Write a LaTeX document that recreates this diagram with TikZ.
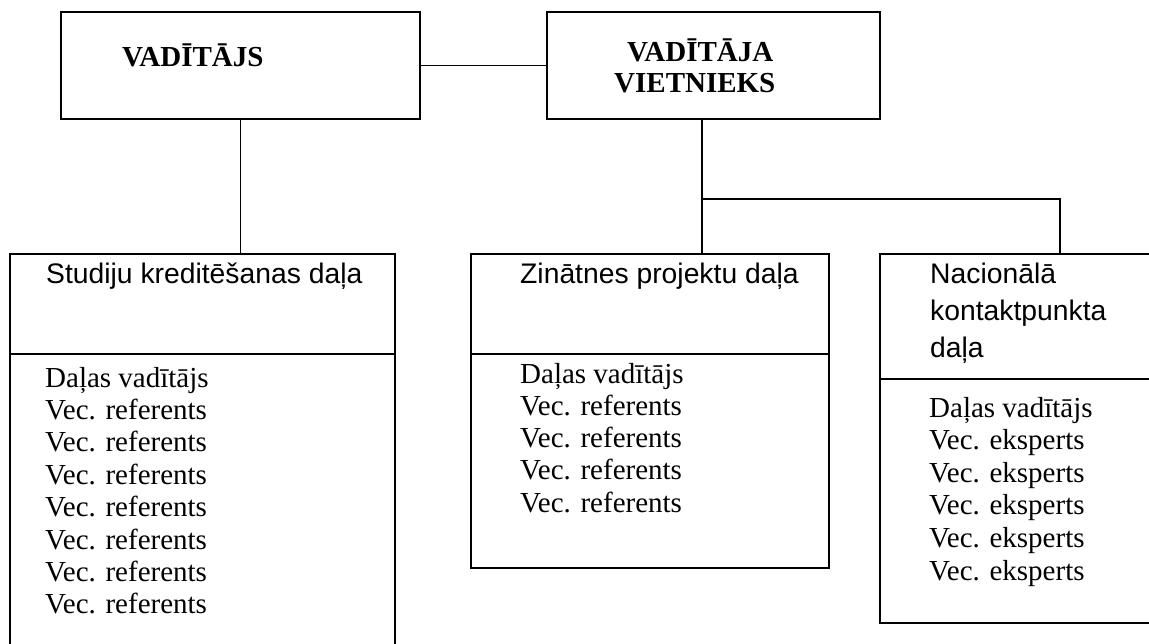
\documentclass[tikz,border=0pt]{standalone}
\usepackage{fontspec}
\setmainfont{Liberation Serif}
\newfontfamily\sansf{Liberation Sans}
\tikzset{
  box/.style={draw, line width=1.6pt, rectangle, inner sep=0pt, outer sep=0pt, anchor=north west},
  conn/.style={line width=1.6pt},
  lst/.style={font=\fontsize{29}{32}\selectfont, inner sep=0pt, anchor=base west},
  hdr/.style={font=\sansf\fontsize{28.3}{37}\selectfont, inner sep=0pt, anchor=base west},
  ttl/.style={font=\bfseries\fontsize{29}{31}\selectfont, inner sep=0pt, anchor=base west}
}
\begin{document}
\begin{tikzpicture}[x=1pt,y=-1pt]
\useasboundingbox (0,0) rectangle (1149,643);
\clip (0,0) rectangle (1149,643);
\fill[white] (0,0) rectangle (1149,643);
% top boxes
\node[box, minimum width=359pt, minimum height=107pt] (b1) at (61,12) {};
\node[box, minimum width=333pt, minimum height=107pt] (b2) at (547,12) {};
\node[ttl] (t1) at (122,66) {VADĪTĀJS};
\node[ttl] (t2a) at (627,61) {VADĪTĀJA};
\node[ttl] (t2b) at (614,92) {VIETNIEKS};
% lower boxes
\node[box, minimum width=385pt, minimum height=400pt] (b3) at (10,254) {};
\node[box, minimum width=358pt, minimum height=314pt] (b4) at (471,254) {};
\node[box, minimum width=300pt, minimum height=369pt] (b5) at (880,254) {};
% dividers
\draw[conn] (b3.west |- 0,354) -- (b3.east |- 0,354);
\draw[conn] (b4.west |- 0,354) -- (b4.east |- 0,354);
\draw[conn] (b5.west |- 0,379) -- (b5.east |- 0,379);
% connectors
\coordinate (j1) at (702,199);
\coordinate (j2) at (1060,199);
\draw[conn] (b1.east) -- (b2.west);
\draw[conn] (b1.south) -- (b1.south |- b3.north);
\draw[conn] (j1 |- b2.south) -- (j1 |- b4.north);
\draw[conn] (j1) -- (j2) -- (j2 |- b5.north);
% headers
\node[hdr] (h3) at (46,283) {Studiju kreditēšanas daļa};
\node[hdr] (h4) at (520,283) {Zinātnes projektu daļa};
\node[hdr] (h5a) at (930,283) {Nacionālā};
\node[hdr] (h5b) at (930,320) {kontaktpunkta};
\node[hdr] (h5c) at (930,357) {daļa};
% lists
\node[lst] (l3-0) at (45,387) {Daļas vadītājs};
\foreach \i in {1,...,7} {
  \node[lst] (l3-\i) at (45,387+32.4*\i) {Vec. referents};
}
\node[lst] (l4-0) at (520,383) {Daļas vadītājs};
\foreach \i in {1,...,4} {
  \node[lst] (l4-\i) at (520,383+32.3*\i) {Vec. referents};
}
\node[lst] (l5-0) at (929,417) {Daļas vadītājs};
\foreach \i in {1,...,5} {
  \node[lst] (l5-\i) at (929,417+32.6*\i) {Vec. eksperts};
}
\end{tikzpicture}
\end{document}
